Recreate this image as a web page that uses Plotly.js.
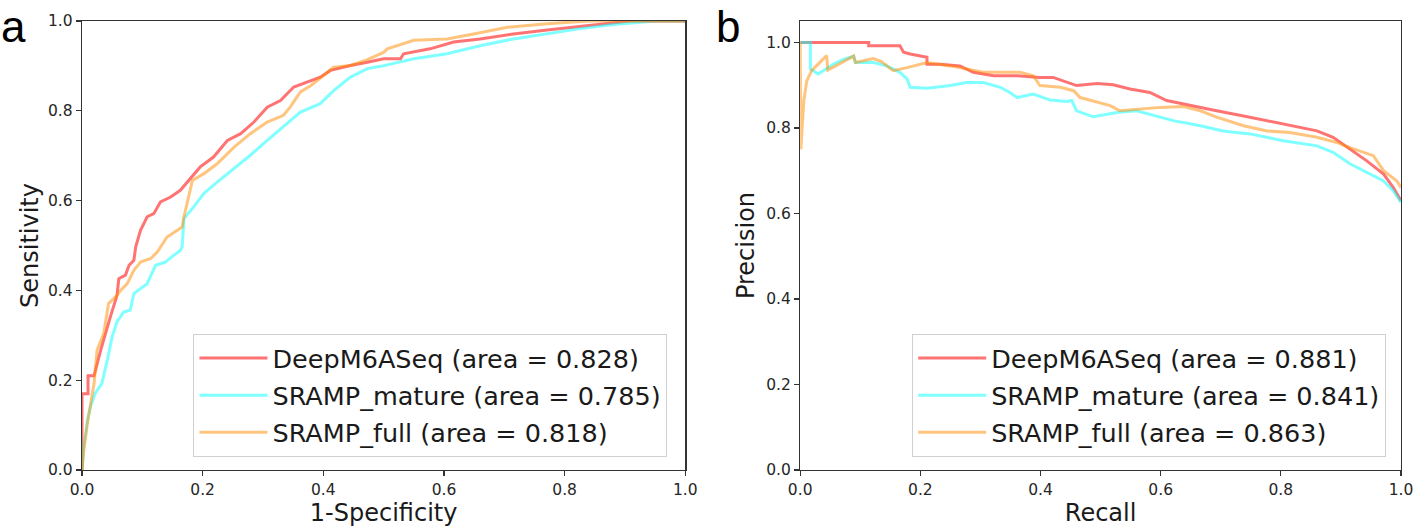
<!DOCTYPE html>
<html>
<head>
<meta charset="utf-8">
<script src="https://cdn.plot.ly/plotly-3.0.1.min.js"></script>
<style>html,body{margin:0;padding:0;background:#fff;}#chart{width:1415px;height:530px;}</style>
</head>
<body>
<div id="chart"></div>
<script>
// ---- Data ----
const seriesNames = ["DeepM6ASeq", "SRAMP_mature", "SRAMP_full"];
const rocAreas = ["0.828", "0.785", "0.818"];
const prAreas = ["0.881", "0.841", "0.863"];
const tickVals = [0, 0.2, 0.4, 0.6, 0.8, 1.0];
const tickLabels = ["0.0", "0.2", "0.4", "0.6", "0.8", "1.0"];

// ROC curves (x = 1-Specificity, y = Sensitivity)
const rocDeepX = [0, 0, 0.010, 0.010, 0.020, 0.031, 0.047, 0.058, 0.061, 0.072, 0.078, 0.086, 0.089, 0.097, 0.108, 0.119, 0.130, 0.147, 0.163, 0.174, 0.196, 0.218, 0.241, 0.263, 0.285, 0.307, 0.329, 0.351, 0.373, 0.395, 0.412, 0.445, 0.473, 0.500, 0.528, 0.533, 0.577, 0.616, 0.660, 0.715, 0.771, 0.826, 0.881, 0.909, 1.0];
const rocDeepY = [0, 0.170, 0.170, 0.210, 0.210, 0.267, 0.341, 0.389, 0.426, 0.434, 0.456, 0.467, 0.497, 0.534, 0.564, 0.571, 0.597, 0.608, 0.623, 0.641, 0.675, 0.697, 0.734, 0.749, 0.775, 0.808, 0.823, 0.853, 0.864, 0.875, 0.890, 0.901, 0.908, 0.916, 0.916, 0.927, 0.938, 0.953, 0.960, 0.971, 0.980, 0.988, 0.995, 1.0, 1.0];

const rocMatureX = [0, 0.003, 0.009, 0.014, 0.022, 0.033, 0.042, 0.050, 0.058, 0.069, 0.080, 0.086, 0.097, 0.108, 0.122, 0.138, 0.152, 0.163, 0.166, 0.169, 0.185, 0.202, 0.224, 0.252, 0.279, 0.307, 0.334, 0.362, 0.395, 0.417, 0.445, 0.473, 0.495, 0.550, 0.605, 0.660, 0.715, 0.771, 0.826, 0.881, 0.937, 0.950, 1.0];
const rocMatureY = [0, 0.052, 0.111, 0.141, 0.171, 0.193, 0.245, 0.297, 0.330, 0.352, 0.356, 0.393, 0.404, 0.415, 0.456, 0.463, 0.478, 0.489, 0.497, 0.560, 0.586, 0.616, 0.641, 0.671, 0.701, 0.734, 0.764, 0.797, 0.816, 0.845, 0.875, 0.894, 0.899, 0.916, 0.927, 0.945, 0.960, 0.971, 0.983, 0.992, 0.998, 1.0, 1.0];

const rocFullX = [0, 0.003, 0.009, 0.014, 0.020, 0.025, 0.036, 0.044, 0.056, 0.064, 0.075, 0.086, 0.097, 0.114, 0.125, 0.141, 0.158, 0.166, 0.169, 0.180, 0.183, 0.202, 0.224, 0.252, 0.279, 0.307, 0.334, 0.345, 0.362, 0.379, 0.401, 0.417, 0.445, 0.473, 0.500, 0.506, 0.550, 0.605, 0.649, 0.705, 0.771, 0.809, 0.840, 1.0];
const rocFullY = [0, 0.044, 0.104, 0.141, 0.193, 0.267, 0.304, 0.371, 0.386, 0.400, 0.415, 0.445, 0.463, 0.471, 0.486, 0.519, 0.534, 0.541, 0.564, 0.630, 0.645, 0.660, 0.682, 0.719, 0.749, 0.775, 0.790, 0.808, 0.842, 0.856, 0.879, 0.897, 0.901, 0.914, 0.930, 0.938, 0.957, 0.960, 0.971, 0.986, 0.994, 0.998, 1.0, 1.0];

// Precision-Recall curves (x = Recall, y = Precision)
const prDeepX = [0, 0.114, 0.114, 0.166, 0.172, 0.183, 0.211, 0.211, 0.233, 0.266, 0.288, 0.322, 0.361, 0.399, 0.421, 0.444, 0.460, 0.494, 0.521, 0.549, 0.582, 0.610, 0.649, 0.693, 0.738, 0.777, 0.815, 0.860, 0.887, 0.915, 0.943, 0.971, 0.987, 1.0];
const prDeepY = [1.0, 1.0, 0.992, 0.992, 0.977, 0.973, 0.965, 0.949, 0.949, 0.945, 0.930, 0.922, 0.922, 0.918, 0.918, 0.906, 0.899, 0.904, 0.901, 0.891, 0.883, 0.864, 0.852, 0.840, 0.828, 0.817, 0.805, 0.793, 0.778, 0.751, 0.723, 0.692, 0.661, 0.630];

const prMatureX = [0, 0.017, 0.017, 0.030, 0.039, 0.055, 0.072, 0.089, 0.092, 0.122, 0.144, 0.166, 0.178, 0.183, 0.211, 0.250, 0.277, 0.305, 0.333, 0.349, 0.361, 0.388, 0.416, 0.444, 0.452, 0.460, 0.488, 0.527, 0.560, 0.582, 0.621, 0.666, 0.704, 0.749, 0.804, 0.860, 0.887, 0.915, 0.943, 0.971, 0.987, 1.0];
const prMatureY = [1.0, 1.0, 0.938, 0.926, 0.934, 0.949, 0.960, 0.968, 0.953, 0.953, 0.945, 0.930, 0.914, 0.895, 0.893, 0.899, 0.906, 0.906, 0.895, 0.883, 0.871, 0.879, 0.865, 0.862, 0.864, 0.840, 0.826, 0.836, 0.840, 0.832, 0.817, 0.805, 0.793, 0.786, 0.770, 0.758, 0.743, 0.716, 0.696, 0.676, 0.653, 0.626];

const prFullX = [0, 0.001, 0.006, 0.011, 0.019, 0.033, 0.044, 0.046, 0.072, 0.089, 0.092, 0.122, 0.135, 0.155, 0.178, 0.211, 0.250, 0.277, 0.305, 0.333, 0.366, 0.388, 0.399, 0.433, 0.455, 0.466, 0.494, 0.516, 0.532, 0.560, 0.599, 0.638, 0.666, 0.693, 0.738, 0.777, 0.815, 0.860, 0.893, 0.915, 0.937, 0.954, 0.971, 0.993, 1.0];
const prFullY = [1.0, 0.75, 0.864, 0.910, 0.934, 0.953, 0.969, 0.935, 0.955, 0.968, 0.953, 0.962, 0.955, 0.934, 0.941, 0.953, 0.945, 0.938, 0.930, 0.930, 0.930, 0.922, 0.899, 0.895, 0.887, 0.871, 0.860, 0.852, 0.840, 0.844, 0.848, 0.850, 0.840, 0.825, 0.805, 0.793, 0.789, 0.778, 0.766, 0.754, 0.743, 0.735, 0.700, 0.676, 0.661];

// ---- Styles ----
const colors = ["rgba(255,0,0,0.55)", "rgba(0,255,255,0.5)", "rgba(255,140,0,0.5)"];
const FONT = "DejaVu Sans, Verdana, sans-serif";

const rocX = [rocDeepX, rocMatureX, rocFullX];
const rocY = [rocDeepY, rocMatureY, rocFullY];
const prX = [prDeepX, prMatureX, prFullX];
const prY = [prDeepY, prMatureY, prFullY];

const traces = [];
for (let i = 0; i < 3; i++) {
  traces.push({
    type: "scatter", mode: "lines", x: rocX[i], y: rocY[i],
    xaxis: "x", yaxis: "y",
    name: seriesNames[i] + " (area = " + rocAreas[i] + ")",
    line: {color: colors[i], width: 3},
    legend: "legend", legendgroup: "roc" + i, hoverinfo: "skip"
  });
}
for (let i = 0; i < 3; i++) {
  traces.push({
    type: "scatter", mode: "lines", x: prX[i], y: prY[i],
    xaxis: "x2", yaxis: "y2",
    name: seriesNames[i] + " (area = " + prAreas[i] + ")",
    line: {color: colors[i], width: 3},
    legend: "legend2", legendgroup: "pr" + i, hoverinfo: "skip"
  });
}

function axisBase(extra) {
  return Object.assign({
    showline: true, mirror: true, linecolor: "#333333", linewidth: 1.3,
    ticks: "outside", ticklen: 5, tickwidth: 1.2, tickcolor: "#333333",
    showgrid: false, zeroline: false,
    tickvals: tickVals, ticktext: tickLabels,
    tickfont: {family: FONT, size: 15.5, color: "#262626"}
  }, extra);
}

const legendBase = {
  xanchor: "left", yanchor: "bottom", y: 0.029,
  bgcolor: "rgba(255,255,255,0.85)", bordercolor: "#d0d0d0", borderwidth: 1,
  font: {family: FONT, size: 25.5, color: "#1a1a1a"},
  tracegroupgap: 1, traceorder: "grouped", itemwidth: 68
};

const layout = {
  width: 1415, height: 530,
  margin: {l: 81.5, r: 14, t: 20.5, b: 59.5, pad: 0},
  paper_bgcolor: "#ffffff", plot_bgcolor: "#ffffff",
  font: {family: FONT},
  showlegend: true,
  xaxis: axisBase({domain: [0, 0.4574], range: [0, 1], anchor: "y",
    title: {text: "1-Specificity", font: {family: FONT, size: 24, color: "#1a1a1a"}, standoff: 6}}),
  yaxis: axisBase({domain: [0, 1], range: [0, 1], anchor: "x",
    title: {text: "Sensitivity", font: {family: FONT, size: 24, color: "#1a1a1a"}, standoff: 2}}),
  xaxis2: axisBase({domain: [0.5445, 1], range: [0, 1], anchor: "y2",
    title: {text: "Recall", font: {family: FONT, size: 24, color: "#1a1a1a"}, standoff: 6}}),
  yaxis2: axisBase({domain: [0, 1], range: [0, 1.05], anchor: "x2",
    title: {text: "Precision", font: {family: FONT, size: 24, color: "#1a1a1a"}, standoff: 4}}),
  legend: Object.assign({}, legendBase, {x: 0.0845}),
  legend2: Object.assign({}, legendBase, {x: 0.6294}),
  annotations: [
    {text: "a", xref: "paper", yref: "paper", x: -0.0618, y: 1.0456, xanchor: "left", yanchor: "top",
     borderpad: 0, showarrow: false, font: {family: "Liberation Sans, Arial, sans-serif", size: 44, color: "#000"}},
    {text: "b", xref: "paper", yref: "paper", x: 0.4801, y: 1.0456, xanchor: "left", yanchor: "top",
     borderpad: 0, showarrow: false, font: {family: "Liberation Sans, Arial, sans-serif", size: 44, color: "#000"}}
  ]
};

Plotly.newPlot("chart", traces, layout, {staticPlot: true, displayModeBar: false});
</script>
</body>
</html>
